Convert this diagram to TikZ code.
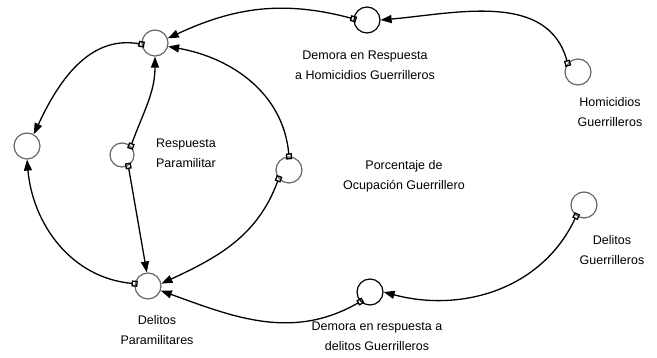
\documentclass[tikz,border=0pt]{standalone}
\usepackage{fontspec}
\setmainfont{Liberation Sans}
\usetikzlibrary{arrows.meta}

\tikzset{
  var/.style={circle,draw=black!60,line width=1.2pt,minimum size=26pt,inner sep=0pt},
  delay/.style={var,draw=black},
  lbl/.style={align=center,font=\fontsize{12.5}{20}\selectfont},
  flow/.style={line width=1.3pt,shorten <=-3pt,
    {Square[open,length=6pt,width=6pt,line width=1.3pt]}-{Triangle[length=11pt,width=8pt]}}
}

\begin{document}
\begin{tikzpicture}[x=1pt,y=1pt]
        \useasboundingbox (0,0) rectangle (657,358);

        \node[var] (tl) at (155,315) {};
        \node[delay] (dh) at (367,338) {};
        \node[var] (hg) at (578,286) {};
        \node[var] (lc) at (27,212) {};
        \node[var,minimum size=24pt] (rp) at (122,203) {};
        \node[var] (pg) at (289,188) {};
        \node[var] (dg) at (584,153) {};
        \node[var] (dp) at (148,72) {};
        \node[delay] (dd) at (370,66) {};

        \node[lbl] (dhl) at (365,293) {Demora en Respuesta\\a Homicidios Guerrilleros};
        \node[lbl] (hgl) at (610,246) {Homicidios\\Guerrilleros};
        \node[lbl] (pgl) at (404,182) {Porcentaje de\\Ocupación Guerrillero};
        \node[lbl] (rpl) at (186,205) {Respuesta\\Paramilitar};
        \node[lbl] (dgl) at (612,108) {Delitos\\Guerrilleros};
        \node[lbl] (dpl) at (157,28) {Delitos\\Paramilitares};
        \node[lbl] (ddl) at (377,22) {Demora en respuesta a\\delitos Guerrilleros};

        \draw[flow] (hg.140) to[out=105,in=5] (dh.east);
        \draw[flow] (dh.175) to[out=165,in=25] (tl.20);
        \draw[flow] (pg.north) to[out=95,in=-10] (tl.-15);
        \draw[flow] (rp.45) to[out=70,in=-90] (tl.south);
        \draw[flow] (tl.185) to[out=170,in=65] (lc.60);
        \draw[flow] (dp.170) to[out=175,in=-85] (lc.south);
        \draw[flow] (rp.-60) -- (dp.95);
        \draw[flow] (pg.220) to[out=-110,in=25] (dp.10);
        \draw[flow] (dg.235) to[out=-115,in=-15] (dd.east);
        \draw[flow] (dd.225) to[out=-150,in=-20] (dp.-20);
    \end{tikzpicture}
\end{document}
